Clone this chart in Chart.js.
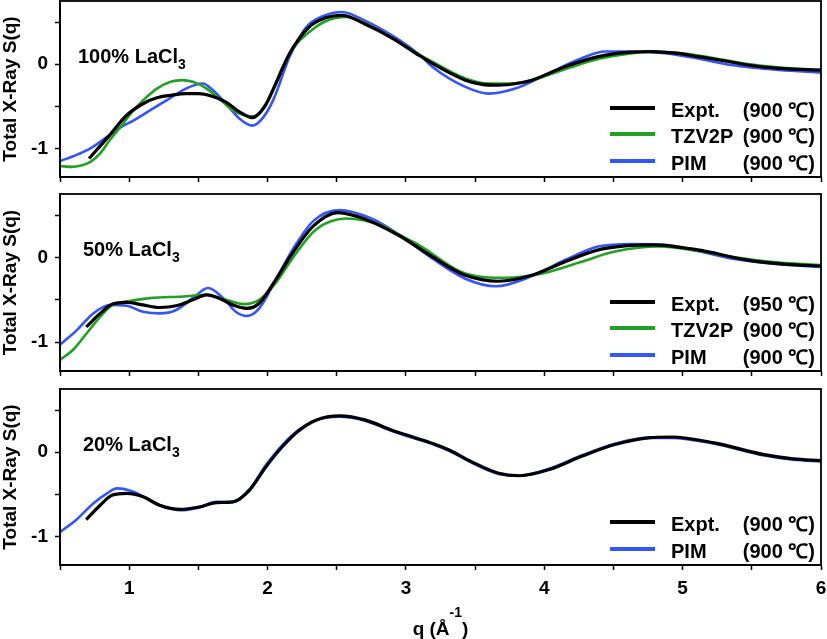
<!DOCTYPE html>
<html>
<head>
<meta charset="utf-8">
<script src="https://cdn.jsdelivr.net/npm/chart.js@4.4.0/dist/chart.umd.min.js"></script>
<style>
    html, body { margin: 0; padding: 0; background: #fff; }
    #wrap { position: relative; width: 827px; height: 639px; overflow: hidden;
        font-family: "Liberation Sans", Arial, Helvetica, sans-serif; font-weight: bold; color: #000; }
    canvas { position: absolute; left: 0; }
    .txt { position: absolute; font-size: 20px; line-height: 20px; white-space: nowrap; }
    .txt sub { font-size: 14px; vertical-align: baseline; position: relative; top: 6px; line-height: 0; }
    .swatch { position: absolute; left: 610px; width: 45px; height: 4px; }
    #xtitle { position: absolute; top: 619px; left: 0; width: 881px; text-align: center;
        font-size: 19px; line-height: 19px; white-space: nowrap; }
    #xtitle sup { font-size: 14px; vertical-align: baseline; position: relative; top: -18px; line-height: 0; }
</style>
</head>
<body>
<div id="wrap">
    <canvas id="c1" width="827" height="194" style="top:0px"></canvas>
    <canvas id="c2" width="827" height="195" style="top:193px"></canvas>
    <canvas id="c3" width="827" height="251" style="top:388px"></canvas>
    <div id="xtitle">q (Å<sup>-1</sup>)</div>
</div>
<script>
// axis ticks
var xTicks = [0.5, 1, 1.5, 2, 2.5, 3, 3.5, 4, 4.5, 5, 5.5, 6];
var yTicks = [-1, -0.5, 0, 0.5];

// 100% LaCl3
var p1ExptQ = [0.71, 0.85, 0.98, 1.10, 1.20, 1.30, 1.41, 1.50, 1.60, 1.70, 1.80, 1.89, 1.98, 2.06, 2.16, 2.30, 2.42, 2.54, 2.70, 2.90, 3.10, 3.19, 3.43, 3.55, 3.67, 3.80, 3.91, 4.15, 4.39, 4.60, 4.78, 4.95, 5.11, 5.30, 5.47, 5.70, 6.00];
var p1ExptS = [-1.12, -0.86, -0.61, -0.47, -0.40, -0.37, -0.35, -0.35, -0.38, -0.45, -0.57, -0.635, -0.50, -0.23, 0.13, 0.44, 0.55, 0.58, 0.48, 0.31, 0.10, 0.01, -0.19, -0.24, -0.25, -0.23, -0.19, -0.03, 0.09, 0.14, 0.15, 0.13, 0.09, 0.04, -0.01, -0.05, -0.07];
var p1TzvQ = [0.50, 0.58, 0.66, 0.72, 0.79, 0.86, 0.95, 1.03, 1.10, 1.20, 1.30, 1.38, 1.46, 1.56, 1.65, 1.75, 1.82, 1.89, 1.96, 2.04, 2.11, 2.20, 2.30, 2.42, 2.57, 2.70, 2.90, 3.10, 3.20, 3.43, 3.60, 3.75, 3.91, 4.15, 4.39, 4.60, 4.78, 5.00, 5.20, 5.47, 5.70, 6.00];
var p1TzvS = [-1.21, -1.22, -1.20, -1.16, -1.06, -0.90, -0.72, -0.55, -0.43, -0.29, -0.21, -0.19, -0.21, -0.29, -0.41, -0.55, -0.60, -0.62, -0.55, -0.30, -0.03, 0.22, 0.38, 0.51, 0.56, 0.49, 0.31, 0.11, 0.02, -0.17, -0.23, -0.23, -0.19, -0.06, 0.06, 0.12, 0.15, 0.13, 0.08, 0.00, -0.04, -0.07];
var p1PimQ = [0.50, 0.60, 0.72, 0.86, 0.95, 1.03, 1.15, 1.27, 1.41, 1.53, 1.60, 1.70, 1.80, 1.89, 1.96, 2.04, 2.16, 2.28, 2.40, 2.54, 2.70, 2.95, 3.10, 3.19, 3.43, 3.60, 3.79, 4.03, 4.27, 4.44, 4.63, 4.87, 5.10, 5.35, 5.70, 6.00];
var p1PimS = [-1.15, -1.09, -1.00, -0.84, -0.74, -0.67, -0.55, -0.43, -0.29, -0.23, -0.30, -0.47, -0.65, -0.73, -0.65, -0.43, 0.09, 0.44, 0.57, 0.62, 0.52, 0.29, 0.11, -0.03, -0.27, -0.35, -0.29, -0.11, 0.07, 0.15, 0.15, 0.13, 0.07, -0.01, -0.07, -0.10];

// 50% LaCl3
var p2ExptQ = [0.69, 0.79, 0.88, 0.98, 1.10, 1.22, 1.34, 1.46, 1.56, 1.65, 1.75, 1.85, 1.94, 2.06, 2.18, 2.33, 2.51, 2.71, 2.95, 3.19, 3.43, 3.67, 3.91, 4.15, 4.39, 4.60, 4.78, 5.11, 5.47, 5.75, 6.00];
var p2ExptS = [-0.82, -0.66, -0.55, -0.53, -0.56, -0.59, -0.57, -0.50, -0.44, -0.48, -0.56, -0.60, -0.54, -0.26, 0.05, 0.37, 0.53, 0.45, 0.26, 0.01, -0.21, -0.28, -0.21, -0.05, 0.09, 0.14, 0.15, 0.09, -0.03, -0.08, -0.10];
var p2TzvQ = [0.50, 0.60, 0.69, 0.79, 0.88, 0.98, 1.15, 1.39, 1.56, 1.70, 1.83, 1.94, 2.06, 2.18, 2.35, 2.57, 2.85, 2.95, 3.10, 3.43, 3.72, 3.98, 4.27, 4.51, 4.83, 5.10, 5.35, 5.70, 6.00];
var p2TzvS = [-1.21, -1.08, -0.90, -0.70, -0.56, -0.52, -0.48, -0.46, -0.44, -0.50, -0.55, -0.50, -0.30, -0.01, 0.33, 0.46, 0.36, 0.27, 0.14, -0.19, -0.24, -0.19, -0.05, 0.07, 0.13, 0.08, 0.01, -0.06, -0.09];
var p2PimQ = [0.50, 0.62, 0.74, 0.86, 0.98, 1.10, 1.22, 1.34, 1.46, 1.57, 1.68, 1.77, 1.85, 1.94, 2.06, 2.18, 2.33, 2.52, 2.75, 2.95, 3.19, 3.43, 3.65, 3.91, 4.15, 4.39, 4.63, 4.87, 5.10, 5.35, 5.70, 6.00];
var p2PimS = [-1.03, -0.86, -0.66, -0.56, -0.57, -0.64, -0.66, -0.62, -0.48, -0.36, -0.48, -0.64, -0.69, -0.60, -0.26, 0.09, 0.43, 0.56, 0.46, 0.27, -0.01, -0.25, -0.34, -0.22, -0.03, 0.13, 0.16, 0.15, 0.08, -0.01, -0.08, -0.11];

// 20% LaCl3
var p3ExptQ = [0.69, 0.79, 0.88, 0.98, 1.10, 1.22, 1.37, 1.51, 1.63, 1.75, 1.87, 1.99, 2.11, 2.23, 2.35, 2.52, 2.71, 2.90, 3.05, 3.20, 3.32, 3.47, 3.67, 3.82, 4.03, 4.27, 4.51, 4.75, 4.92, 5.23, 5.59, 5.80, 6.00];
var p3ExptS = [-0.80, -0.63, -0.51, -0.49, -0.53, -0.63, -0.68, -0.65, -0.60, -0.59, -0.45, -0.17, 0.07, 0.26, 0.38, 0.43, 0.38, 0.26, 0.18, 0.10, 0.02, -0.11, -0.25, -0.28, -0.21, -0.05, 0.09, 0.17, 0.18, 0.11, -0.03, -0.08, -0.10];
var p3PimQ = [0.50, 0.62, 0.74, 0.84, 0.91, 1.03, 1.15, 1.25, 1.37, 1.50, 1.63, 1.75, 1.87, 1.99, 2.11, 2.23, 2.35, 2.52, 2.71, 2.90, 3.05, 3.20, 3.32, 3.47, 3.67, 3.82, 4.03, 4.27, 4.51, 4.75, 4.92, 5.23, 5.59, 5.80, 6.00];
var p3PimS = [-0.95, -0.80, -0.61, -0.49, -0.43, -0.47, -0.57, -0.65, -0.69, -0.66, -0.59, -0.59, -0.44, -0.15, 0.09, 0.27, 0.38, 0.42, 0.37, 0.25, 0.17, 0.09, 0.01, -0.12, -0.26, -0.28, -0.20, -0.04, 0.10, 0.17, 0.17, 0.10, -0.04, -0.09, -0.11];

var panelLabels = ['100% LaCl', '50% LaCl', '20% LaCl'];
var p1Temps = ['(900 ℃)', '(900 ℃)', '(900 ℃)'];
var p2Temps = ['(950 ℃)', '(900 ℃)', '(900 ℃)'];
var p3Temps = ['(900 ℃)', '(900 ℃)'];

var BLACK = '#000000', GREEN = '#22a024', BLUE = '#3356f5';
var FONT = "'Liberation Sans', Arial, Helvetica, sans-serif";

function series(name, q, s, color, width) {
    return {
        label: name,
        data: q.map(function (x, i) { return { x: x, y: s[i] }; }),
        borderColor: color,
        borderWidth: width,
        pointRadius: 0,
        fill: false,
        cubicInterpolationMode: 'monotone'
    };
}

var panels = [
    { id: 'c1', top: 0, xHeight: 17, showX: false, labelLeft: 78, label: panelLabels[0], temps: p1Temps,
      datasets: [series('Expt.', p1ExptQ, p1ExptS, BLACK, 3.2),
                 series('TZV2P', p1TzvQ, p1TzvS, GREEN, 2.6),
                 series('PIM', p1PimQ, p1PimS, BLUE, 2.6)] },
    { id: 'c2', top: 193, xHeight: 17, showX: false, labelLeft: 83, label: panelLabels[1], temps: p2Temps,
      datasets: [series('Expt.', p2ExptQ, p2ExptS, BLACK, 3.2),
                 series('TZV2P', p2TzvQ, p2TzvS, GREEN, 2.6),
                 series('PIM', p2PimQ, p2PimS, BLUE, 2.6)] },
    { id: 'c3', top: 388, xHeight: 74, showX: true, labelLeft: 83, label: panelLabels[2], temps: p3Temps,
      datasets: [series('Expt.', p3ExptQ, p3ExptS, BLACK, 3.2),
                 series('PIM', p3PimQ, p3PimS, BLUE, 2.6)] }
];

var framePlugin = {
    id: 'frame',
    afterDraw: function (chart) {
        var a = chart.chartArea, ctx = chart.ctx;
        ctx.save();
        ctx.strokeStyle = '#000';
        ctx.lineWidth = 1.8;
        ctx.strokeRect(a.left, a.top, a.right - a.left, a.bottom - a.top);
        ctx.restore();
    }
};

var wrap = document.getElementById('wrap');

function addText(html, left, top, right) {
    var d = document.createElement('div');
    d.className = 'txt';
    d.innerHTML = html;
    d.style.top = top + 'px';
    if (right !== undefined) d.style.right = right + 'px';
    else d.style.left = left + 'px';
    wrap.appendChild(d);
}

panels.forEach(function (p) {
    var chart = new Chart(document.getElementById(p.id), {
        type: 'line',
        data: { datasets: p.datasets },
        plugins: [framePlugin],
        options: {
            responsive: false,
            animation: false,
            devicePixelRatio: 1,
            layout: { padding: { left: 0, right: 6, top: 1, bottom: 0 } },
            plugins: { legend: { display: false }, tooltip: { enabled: false } },
            scales: {
                x: {
                    type: 'linear',
                    min: 0.5,
                    max: 6,
                    afterBuildTicks: function (scale) {
                        scale.ticks = xTicks.map(function (v) { return { value: v }; });
                    },
                    afterFit: function (scale) {
                        scale.height = p.xHeight;
                        scale.paddingLeft = 0;
                        scale.paddingRight = 0;
                    },
                    grid: { drawOnChartArea: false, drawTicks: true, tickLength: 5, tickWidth: 1.5, tickColor: '#000' },
                    border: { display: true, color: '#000', width: 1.8 },
                    ticks: {
                        display: p.showX,
                        autoSkip: false,
                        maxRotation: 0,
                        padding: 7,
                        color: '#000',
                        font: { family: FONT, size: 19, weight: 'bold' },
                        callback: function (v) { return Number.isInteger(v) ? String(v) : ''; }
                    }
                },
                y: {
                    type: 'linear',
                    min: -1.34,
                    max: 0.75,
                    afterBuildTicks: function (scale) {
                        scale.ticks = yTicks.map(function (v) { return { value: v }; });
                    },
                    afterFit: function (scale) {
                        scale.width = 60;
                        scale.paddingTop = 0;
                        scale.paddingBottom = 0;
                    },
                    grid: { drawOnChartArea: false, drawTicks: true, tickLength: 5, tickWidth: 1.5, tickColor: '#000' },
                    border: { display: true, color: '#000', width: 1.8 },
                    ticks: {
                        autoSkip: false,
                        padding: 7,
                        color: '#000',
                        font: { family: FONT, size: 19, weight: 'bold' },
                        callback: function (v) { return Number.isInteger(v) ? String(v) : ''; }
                    },
                    title: {
                        display: true,
                        text: 'Total X-Ray S(q)',
                        color: '#000',
                        padding: 0,
                        font: { family: FONT, size: 19, weight: 'bold', lineHeight: 1.1 }
                    }
                }
            }
        }
    });

    var area = chart.chartArea;
    var top = p.top + area.top;
    var bottom = p.top + area.bottom;

    // panel label
    addText(p.label + '<sub>3</sub>', p.labelLeft, top + 45);

    // legend inside the plot, bottom right
    var n = p.datasets.length;
    p.datasets.forEach(function (ds, i) {
        var cy = bottom - 16.5 - (n - 1 - i) * 26.5;
        var sw = document.createElement('div');
        sw.className = 'swatch';
        sw.style.top = (cy - 2) + 'px';
        sw.style.background = ds.borderColor;
        wrap.appendChild(sw);
        addText(ds.label, 671, cy - 8);
        addText(p.temps[i], 0, cy - 8, 12);
    });
});
</script>
</body>
</html>
